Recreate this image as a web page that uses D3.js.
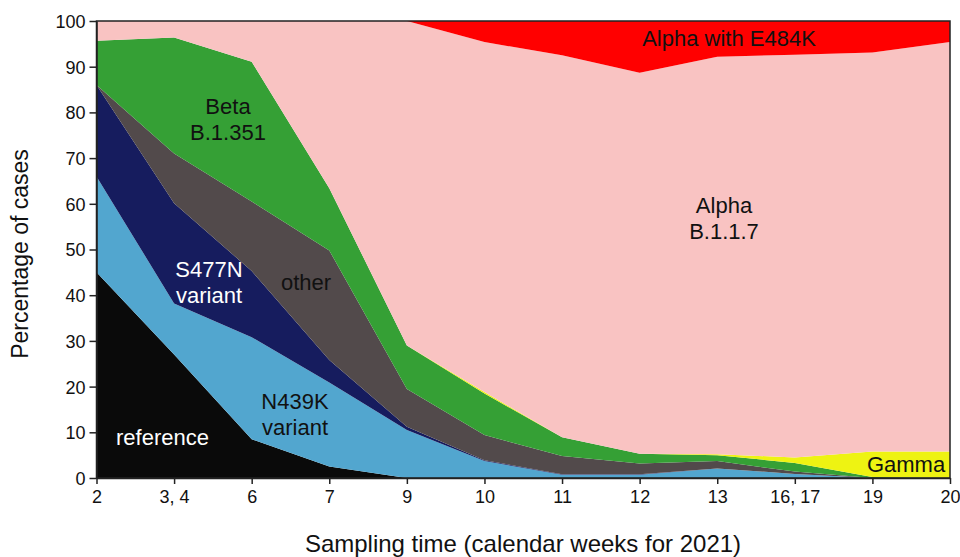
<!DOCTYPE html>
<html>
<head>
<meta charset="utf-8">
<script src="https://cdn.jsdelivr.net/npm/d3@7"></script>
<style>
  html, body { margin: 0; padding: 0; background: #fff; }
  svg { display: block; font-family: "Liberation Sans", Arial, Helvetica, sans-serif; }
</style>
</head>
<body>
<svg id="chart" width="960" height="557"></svg>
<script>
// Sampling weeks (calendar weeks of 2021)
const weeks = ["2", "3, 4", "6", "7", "9", "10", "11", "12", "13", "16, 17", "19", "20"];

// Share of cases per lineage, percent, bottom of the stack first
const reference = [45, 27, 8.5, 2.5, 0, 0, 0, 0, 0, 0, 0, 0];
const n439k     = [21, 11.2, 22.3, 18.4, 10.5, 3.7, 0.7, 0.7, 2.1, 0.9, 0, 0];
const s477n     = [20, 21.9, 14.5, 4.9, 0.7, 0.2, 0.1, 0.1, 0, 0, 0, 0];
const other     = [0, 10.9, 15.2, 24, 8.3, 5.5, 4.0, 2.4, 1.6, 0.5, 0, 0];
const beta      = [9.7, 25.4, 30.6, 13.6, 9.5, 9.1, 4.1, 2.1, 1.3, 1.9, 0.2, 0];
const gamma     = [0, 0, 0, 0, 0, 0.3, 0, 0, 0.2, 1.2, 5.6, 5.8];
const alpha     = [4.3, 3.6, 8.9, 36.6, 71, 76.6, 83.6, 83.4, 87, 88.1, 87.3, 89.6];
const alphaE484K = [0, 0, 0, 0, 0, 4.6, 7.5, 11.3, 7.8, 7.4, 6.9, 4.6];

const yTicks = [0, 10, 20, 30, 40, 50, 60, 70, 80, 90, 100];

const seriesKeys = ["reference", "n439k", "s477n", "other", "beta", "gamma", "alpha", "alphaE484K"];
const seriesValues = { reference, n439k, s477n, other, beta, gamma, alpha, alphaE484K };
const colors = {
  reference: "#0a0a0a",
  n439k: "#52a6cf",
  s477n: "#161c5e",
  other: "#524a4b",
  beta: "#35a035",
  gamma: "#eef312",
  alpha: "#f9c3c2",
  alphaE484K: "#ff0000"
};

const rows = weeks.map((w, i) => {
  const r = { week: w };
  seriesKeys.forEach(k => { r[k] = seriesValues[k][i]; });
  return r;
});

const svg = d3.select("#chart");
const plotLeft = 96.5, plotRight = 950, plotTop = 21, plotBottom = 478;

const x = d3.scalePoint().domain(weeks).range([plotLeft, plotRight]).padding(0);
const y = d3.scaleLinear().domain([0, 100]).range([plotBottom, plotTop]);

const stacked = d3.stack().keys(seriesKeys)(rows);

const area = d3.area()
  .x(d => x(d.data.week))
  .y0(d => y(d[0]))
  .y1(d => y(d[1]));

svg.append("g")
  .selectAll("path")
  .data(stacked)
  .join("path")
  .attr("d", area)
  .attr("fill", d => colors[d.key]);

// plot frame
svg.append("rect")
  .attr("x", plotLeft).attr("y", plotTop)
  .attr("width", plotRight - plotLeft).attr("height", plotBottom - plotTop)
  .attr("fill", "none")
  .attr("stroke", "#222")
  .attr("stroke-width", 1.5);

// axes
const xAxis = svg.append("g")
  .attr("transform", `translate(0,${plotBottom})`)
  .call(d3.axisBottom(x).tickSize(6).tickSizeOuter(0).tickPadding(6));
const yAxis = svg.append("g")
  .attr("transform", `translate(${plotLeft},0)`)
  .call(d3.axisLeft(y).tickValues(yTicks).tickSize(7).tickSizeOuter(0).tickPadding(4));

[xAxis, yAxis].forEach(g => {
  g.select(".domain").attr("stroke", "#222").attr("stroke-width", 1.5);
  g.selectAll(".tick line").attr("stroke", "#222").attr("stroke-width", 1.5);
  g.selectAll(".tick text")
    .attr("fill", "#111")
    .style("font-size", "18px")
    .style("font-family", "'Liberation Sans', Arial, sans-serif");
});
yAxis.selectAll(".tick text").attr("dy", "0.36em");

// axis titles
svg.append("text")
  .attr("x", 523).attr("y", 552)
  .attr("text-anchor", "middle")
  .style("font-size", "24px")
  .attr("fill", "#111")
  .text("Sampling time (calendar weeks for 2021)");

svg.append("text")
  .attr("transform", "translate(28,254) rotate(-90)")
  .attr("text-anchor", "middle")
  .style("font-size", "23px")
  .attr("fill", "#111")
  .text("Percentage of cases");

// in-area lineage labels
const labels = [
  { lines: ["Beta", "B.1.351"], x: 228, y: 114, color: "#111" },
  { lines: ["S477N", "variant"], x: 209, y: 277, color: "#fff" },
  { lines: ["other"], x: 306, y: 290, color: "#111" },
  { lines: ["N439K", "variant"], x: 295, y: 409, color: "#111" },
  { lines: ["reference"], x: 162.5, y: 445, color: "#fff" },
  { lines: ["Alpha", "B.1.1.7"], x: 724, y: 213, color: "#111" },
  { lines: ["Alpha with E484K"], x: 729, y: 46, color: "#111" },
  { lines: ["Gamma"], x: 906, y: 471.5, color: "#111" }
];

labels.forEach(l => {
  const t = svg.append("text")
    .attr("text-anchor", "middle")
    .attr("fill", l.color)
    .style("font-size", "22px");
  l.lines.forEach((line, i) => {
    t.append("tspan").attr("x", l.x).attr("y", l.y + i * 26).text(line);
  });
});
</script>
</body>
</html>
